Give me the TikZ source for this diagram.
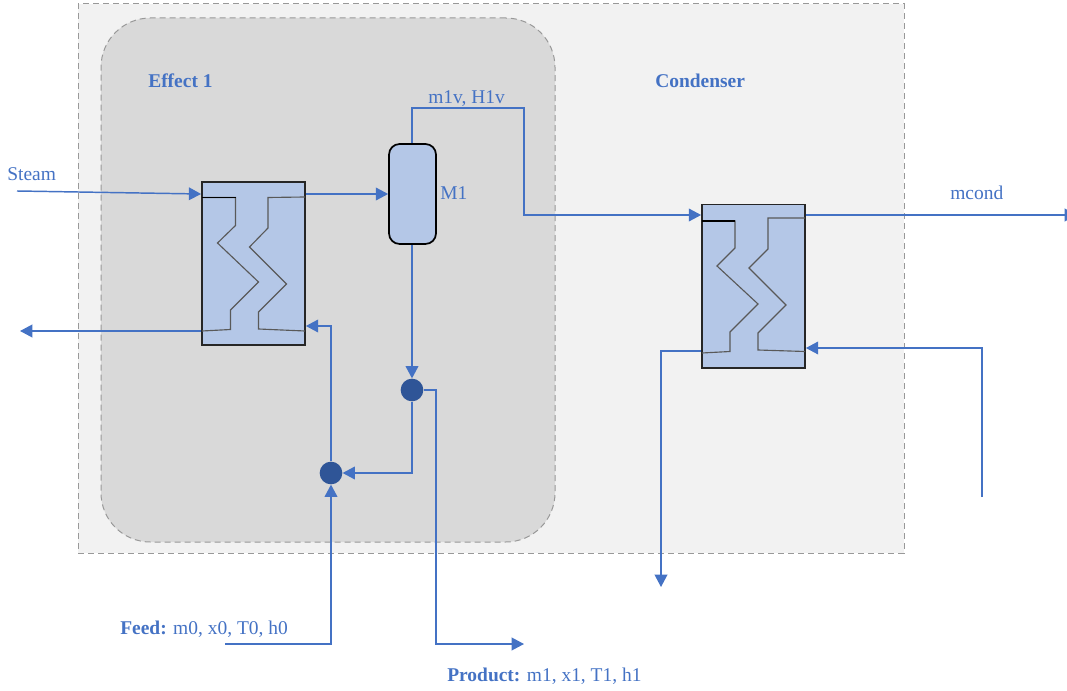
\documentclass[tikz,border=0pt]{standalone}
\usepackage{fontspec}
\setmainfont{Liberation Serif}
\usetikzlibrary{arrows.meta}
\definecolor{flow}{HTML}{4472C4}
\definecolor{hxfill}{HTML}{B4C7E7}
\definecolor{mix}{HTML}{2F5597}
\tikzset{
  x=0.75pt,y=-0.75pt,
  flowline/.style={draw=flow,line width=1.1pt},
  flowarrow/.style={flowline,-{Triangle[length=9.2pt,width=9.5pt]}},
  hxbox/.style={draw=black!85,line width=1.3pt,fill=hxfill,minimum width=77.25pt,minimum height=122.5pt,inner sep=0pt},
  coil/.style={draw=black!65,line width=0.85pt},
  mixer/.style={circle,fill=mix,draw=none,minimum size=17pt,inner sep=0pt},
  zone/.style={draw=black!40,dash pattern=on 4.5pt off 3pt,line width=0.75pt},
  lbl/.style={text=flow,font=\fontsize{14.6}{17}\selectfont,inner sep=0pt},
  boldlbl/.style={lbl,font=\fontsize{14.6}{17}\selectfont\bfseries},
}
\begin{document}
\begin{tikzpicture}
\useasboundingbox (0,0) rectangle (1067,691);
\node[zone,fill=black!5,minimum width=619.5pt,minimum height=411.75pt,inner sep=0pt] (outer) at (491,278.5) {};
\node[zone,fill=black!15,rounded corners=37pt,minimum width=340.5pt,minimum height=393pt,inner sep=0pt] (inner) at (328,280) {};
% nodes
\node[hxbox] (hxa) at (253.5,263.7) {};
\node[hxbox] (hxb) at (753.5,286.2) {};
\node[draw=black,line width=1.3pt,fill=hxfill,rounded corners=8pt,minimum width=35.25pt,minimum height=75pt,inner sep=0pt] (sep) at (412.5,194) {};
\node[mixer] (mixa) at (412,390) {};
\node[mixer] (mixb) at (331,473) {};
% free ends
\coordinate (steamin) at (17,191);
\coordinate (cwin) at (982,497);
\coordinate (feedin) at (225,644);
\coordinate (prodout) at (524,644);
\coordinate (condout) at (1077,215);
\coordinate (drain) at (20,331);
\coordinate (cwout) at (661,587);
% coils
\draw[coil] (202,197.5) -- (235.5,197.5) -- (235.5,225.5) -- (217.5,243) -- (258.5,282) -- (230.5,310) -- (230.5,329.5) -- (202,331);
\draw[coil] (305,197) -- (268,197.5) -- (268,228) -- (249.5,247) -- (286.5,284) -- (258.5,312) -- (258.5,329) -- (305,331);
\draw[coil] (702,221) -- (735,221) -- (735,248) -- (717,266) -- (758,304) -- (730,332) -- (730,351.5) -- (702,353);
\draw[coil] (805,218) -- (768,218) -- (768,249) -- (749,268) -- (786,305) -- (758,333) -- (758,350) -- (805,351.5);
\draw[draw=black,line width=1pt] (202,197.5) -- (235.5,197.5);
\draw[draw=black,line width=1pt] (702,221) -- (735,221);
% connectors
\draw[flowarrow] (steamin) -- (hxa.west |- 0,194);
\draw[flowarrow] (hxa.east |- 0,194) -- (sep.west |- 0,194);
\draw[flowarrow] (hxa.west |- 0,331) -- (drain);
\draw[flowarrow] (sep.north -| 412,0) -- (412,108) -- (524,108) -- (524,215) -- (hxb.west |- 0,215);
\draw[flowarrow] (sep.south -| 412,0) -- (mixa.north);
\draw[flowarrow] (mixa.south) -- (412,473) -- (mixb.east);
\draw[flowarrow] (mixb.north) -- (331,326) -- (hxa.east |- 0,326);
\draw[flowarrow] (feedin) -- (331,644) -- (mixb.south);
\draw[flowarrow] (mixa.east) -- (436,390) -- (436,644) -- (prodout);
\draw[flowarrow] (hxb.east |- 0,215) -- (condout);
\draw[flowarrow] (hxb.west |- 0,351) -- (661,351) -- (cwout);
\draw[flowarrow] (cwin) -- (982,348) -- (hxb.east |- 0,348);
% labels
\node[lbl,anchor=base west] (tsteam) at (7,181) {Steam};
\node[boldlbl,anchor=base west] (teff) at (148,87.5) {Effect 1};
\node[boldlbl,anchor=base west] (tcond) at (655,87.5) {Condenser};
\node[lbl,anchor=base west] (tvap) at (428,104) {m1v, H1v};
\node[lbl,anchor=base west] (tm) at (440,200) {M1};
\node[lbl,anchor=base west] (tmc) at (950,200) {mcond};
\node[lbl,anchor=base west] (tfeed) at (120,634) {\textbf{Feed:} m0, x0, T0, h0};
\node[lbl,anchor=base west] (tprod) at (447,681) {\textbf{Product:} m1, x1, T1, h1};
\end{tikzpicture}
\end{document}
